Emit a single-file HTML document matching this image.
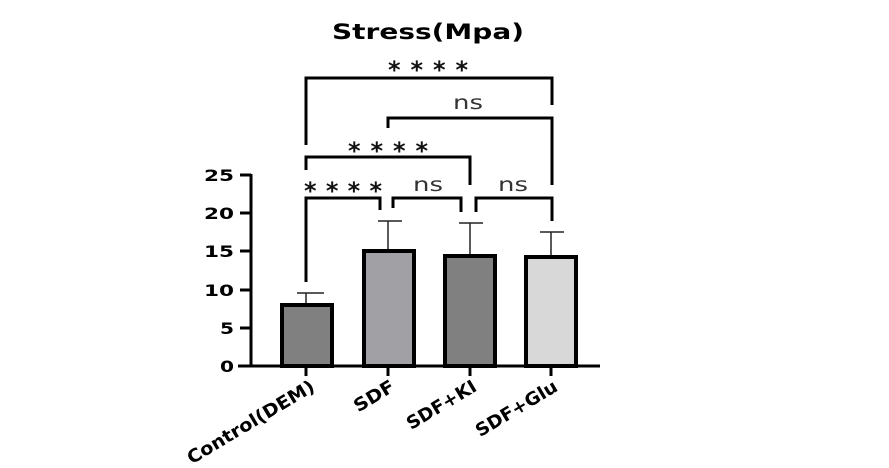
<!DOCTYPE html>
<html><head><style>
html,body{margin:0;padding:0;background:#fff;}
svg{display:block;}
text{font-family:"DejaVu Sans","Liberation Sans",sans-serif;}
</style></head><body>
<svg width="889" height="468" viewBox="0 0 889 468">
<text x="428" y="39" font-size="21" font-weight="bold" text-anchor="middle" textLength="192" lengthAdjust="spacingAndGlyphs">Stress(Mpa)</text>
<g stroke="#000" stroke-width="3" fill="none">
<polyline points="306,145 306,78 552,78 552,105"/>
<polyline points="388,128 388,118 552,118 552,185"/>
<polyline points="306,170 306,157 470,157 470,185"/>
<polyline points="306,282 306,198 380,198 380,210"/>
<polyline points="393,208 393,198 461,198 461,212"/>
<polyline points="476,212 476,198 552,198 552,221"/>
</g>
<g font-size="24" font-weight="bold" text-anchor="middle" fill="#111">
<text x="428" y="78" textLength="80" lengthAdjust="spacing">****</text>
<text x="388" y="159" textLength="80" lengthAdjust="spacing">****</text>
<text x="343" y="199" textLength="78" lengthAdjust="spacing">****</text>
</g>
<g font-size="19" text-anchor="middle" fill="#333" font-family="Liberation Sans">
<text x="468" y="109" textLength="30" lengthAdjust="spacingAndGlyphs">ns</text>
<text x="428" y="191" textLength="30" lengthAdjust="spacingAndGlyphs">ns</text>
<text x="513" y="191" textLength="30" lengthAdjust="spacingAndGlyphs">ns</text>
</g>
<g stroke="#222" stroke-width="1.5">
<line x1="306" y1="304" x2="306" y2="293"/><line x1="297" y1="293" x2="324" y2="293"/>
<line x1="388" y1="250" x2="388" y2="221"/><line x1="378" y1="221" x2="402" y2="221"/>
<line x1="470" y1="255" x2="470" y2="223"/><line x1="459" y1="223" x2="483" y2="223"/>
<line x1="551" y1="256" x2="551" y2="232"/><line x1="540" y1="232" x2="564" y2="232"/>
</g>
<g stroke="#000" stroke-width="4">
<rect x="282" y="305" width="50" height="61" fill="#808080"/>
<rect x="364" y="251" width="50" height="115" fill="#a0a0a5"/>
<rect x="445" y="256" width="50" height="110" fill="#808080"/>
<rect x="526" y="257" width="50" height="109" fill="#d8d8d8"/>
</g>
<g stroke="#000" stroke-width="3">
<line x1="251" y1="174" x2="251" y2="367"/>
<line x1="238" y1="366" x2="600" y2="366"/>
<line x1="240" y1="175" x2="251" y2="175"/>
<line x1="240" y1="213" x2="251" y2="213"/>
<line x1="240" y1="251" x2="251" y2="251"/>
<line x1="240" y1="290" x2="251" y2="290"/>
<line x1="240" y1="328" x2="251" y2="328"/>
<line x1="306" y1="366" x2="306" y2="376"/>
<line x1="388" y1="366" x2="388" y2="376"/>
<line x1="470" y1="366" x2="470" y2="376"/>
<line x1="551" y1="366" x2="551" y2="376"/>
</g>
<g font-size="16" font-weight="bold" text-anchor="end">
<text x="234" y="181" textLength="30" lengthAdjust="spacingAndGlyphs">25</text>
<text x="234" y="219" textLength="30" lengthAdjust="spacingAndGlyphs">20</text>
<text x="234" y="257" textLength="30" lengthAdjust="spacingAndGlyphs">15</text>
<text x="234" y="296" textLength="30" lengthAdjust="spacingAndGlyphs">10</text>
<text x="234" y="334" textLength="14" lengthAdjust="spacingAndGlyphs">5</text>
<text x="234" y="372" textLength="14" lengthAdjust="spacingAndGlyphs">0</text>
</g>
<g font-size="18" font-weight="bold" text-anchor="end">
<text transform="translate(316,390) rotate(-31)" textLength="145" lengthAdjust="spacingAndGlyphs">Control(DEM)</text>
<text transform="translate(396,390) rotate(-31)" textLength="44" lengthAdjust="spacingAndGlyphs">SDF</text>
<text transform="translate(478,390) rotate(-31)" textLength="78" lengthAdjust="spacingAndGlyphs">SDF+KI</text>
<text transform="translate(559,390) rotate(-31)" textLength="92" lengthAdjust="spacingAndGlyphs">SDF+Glu</text>
</g>
</svg>
</body></html>
